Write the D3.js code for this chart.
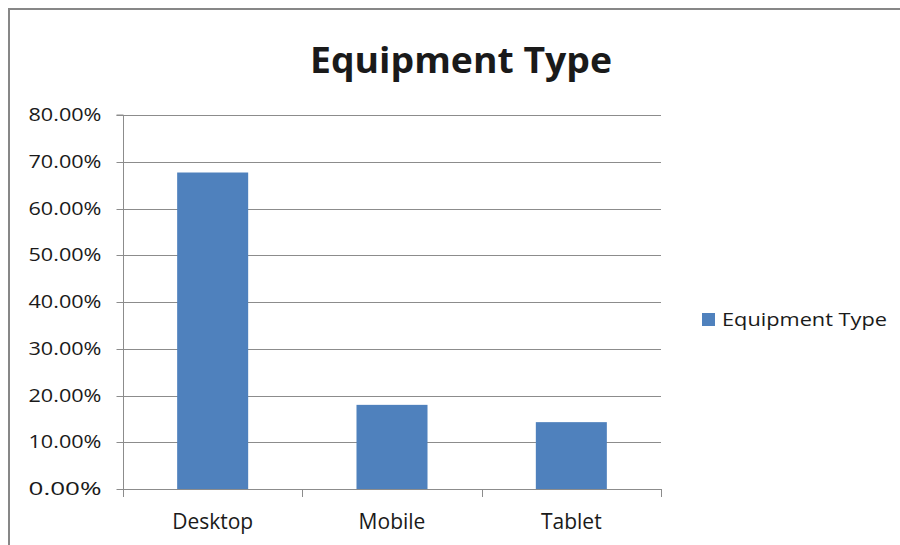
<!DOCTYPE html>
<html>
<head>
<meta charset="utf-8">
<script src="https://cdn.jsdelivr.net/npm/d3@7"></script>
<style>
  html, body { margin: 0; padding: 0; background: #fff; }
  svg { display: block; }
  text { font-family: "Open Sans", "Liberation Sans", sans-serif; fill: #1a1a1a; }
</style>
</head>
<body>
<svg id="chart" width="900" height="545"></svg>
<script>
// Share of visits by equipment type
const categories = ["Desktop", "Mobile", "Tablet"];
const shares = [0.677, 0.180, 0.143];
const yTicks = [0, 0.1, 0.2, 0.3, 0.4, 0.5, 0.6, 0.7, 0.8];
const seriesName = "Equipment Type";
const chartTitle = "Equipment Type";

const svg = d3.select("#chart");
const W = 900, H = 545;
const plot = { left: 123, right: 661, top: 115, bottom: 489 };
const barColor = "#4f81bd";
const gridColor = "#8c8c8c";

// Chart frame (top and left edges visible)
svg.append("path")
  .attr("d", `M9,${H + 5} V9 H${W + 5}`)
  .attr("fill", "none")
  .attr("stroke", "#878787")
  .attr("stroke-width", 2);

const x = d3.scaleBand()
  .domain(categories)
  .range([plot.left, plot.right])
  .paddingInner(0.604)
  .paddingOuter(0.302);

const y = d3.scaleLinear()
  .domain([0, 0.8])
  .range([plot.bottom, plot.top]);

// Horizontal gridlines
svg.append("g")
  .selectAll("line")
  .data(yTicks.filter(t => t > 0))
  .join("line")
  .attr("x1", plot.left)
  .attr("x2", plot.right)
  .attr("y1", d => Math.round(y(d)) + 0.5)
  .attr("y2", d => Math.round(y(d)) + 0.5)
  .attr("stroke", gridColor)
  .attr("stroke-width", 1);

// Y axis
const yAxis = d3.axisLeft(y)
  .tickValues(yTicks)
  .tickFormat(d3.format(".2%"))
  .tickSize(7)
  .tickPadding(15)
  .offset(0);
const gy = svg.append("g")
  .attr("transform", `translate(${plot.left + 0.5},0)`)
  .call(yAxis);
gy.select(".domain").attr("stroke", gridColor).attr("d", `M-7,${plot.top}H0V${plot.bottom}`);
gy.selectAll(".tick line").attr("stroke", gridColor);
gy.selectAll(".tick").attr("transform", d => `translate(0,${Math.round(y(d)) + 0.5})`);
gy.selectAll(".tick text")
  .style("font-family", "'Open Sans', sans-serif")
  .style("font-size", "18px")
  .attr("fill", "#1a1a1a")
  .attr("textLength", 73)
  .attr("lengthAdjust", "spacingAndGlyphs");

// Bars
svg.append("g")
  .selectAll("rect")
  .data(categories.map((c, i) => ({ c, v: shares[i] })))
  .join("rect")
  .attr("x", d => x(d.c))
  .attr("width", x.bandwidth())
  .attr("y", d => y(d.v))
  .attr("height", d => y(0) - y(d.v))
  .attr("fill", barColor);

// X axis with ticks between categories
const xAxisG = svg.append("g");
xAxisG.append("line")
  .attr("x1", plot.left).attr("x2", plot.right)
  .attr("y1", plot.bottom + 0.5).attr("y2", plot.bottom + 0.5)
  .attr("stroke", gridColor);
const boundaries = d3.range(categories.length + 1).map(i => plot.left + i * (plot.right - plot.left) / categories.length);
xAxisG.selectAll("line.tick")
  .data(boundaries)
  .join("line")
  .attr("class", "tick")
  .attr("x1", d => Math.round(d) + 0.5)
  .attr("x2", d => Math.round(d) + 0.5)
  .attr("y1", plot.bottom)
  .attr("y2", plot.bottom + 8)
  .attr("stroke", gridColor);
xAxisG.selectAll("text")
  .data(categories)
  .join("text")
  .attr("x", d => x(d) + x.bandwidth() / 2)
  .attr("y", 529)
  .attr("text-anchor", "middle")
  .style("font-size", "21px")
  .text(d => d);

// Title
svg.append("text")
  .attr("x", 461)
  .attr("y", 73)
  .attr("text-anchor", "middle")
  .style("font-size", "35px")
  .style("font-weight", "bold")
  .attr("fill", "#000")
  .attr("textLength", 302)
  .attr("lengthAdjust", "spacingAndGlyphs")
  .text(chartTitle);

// Legend
const legend = svg.append("g").attr("transform", "translate(702,313)");
legend.append("rect")
  .attr("width", 13).attr("height", 13)
  .attr("fill", barColor);
legend.append("text")
  .attr("x", 20)
  .attr("y", 13)
  .style("font-size", "18px")
  .attr("textLength", 165)
  .attr("lengthAdjust", "spacingAndGlyphs")
  .text(seriesName);
</script>
</body>
</html>
